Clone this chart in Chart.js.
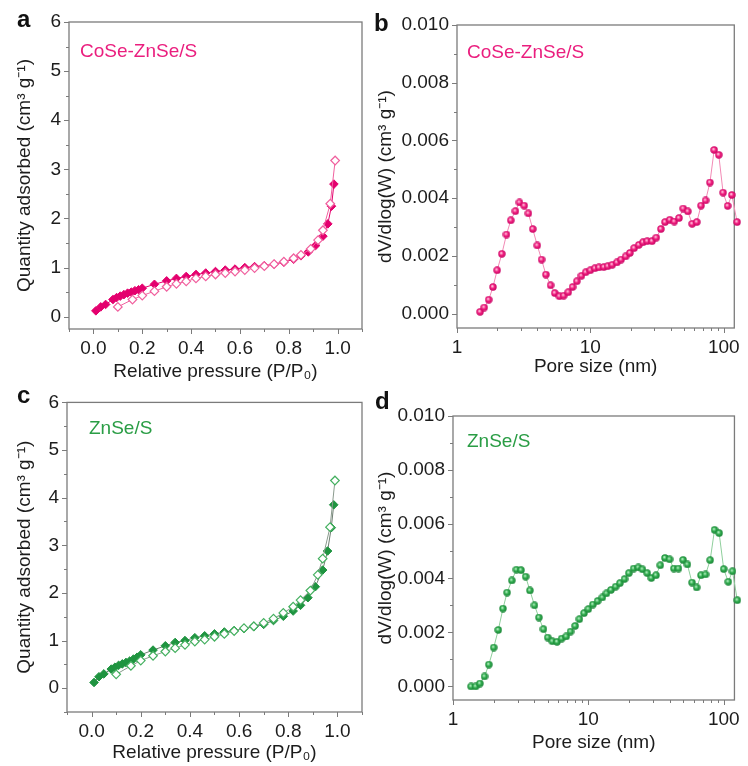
<!DOCTYPE html>
<html>
<head>
<meta charset="utf-8">
<title>N2 isotherms and pore size distributions</title>
<script src="https://cdn.jsdelivr.net/npm/chart.js@4.4.1/dist/chart.umd.min.js"></script>
<style>
  body { margin: 0; background: #fff; }
  #page { position: relative; width: 748px; height: 766px; overflow: hidden; font-family: Arial, 'Liberation Sans', sans-serif; }
  canvas { position: absolute; }
  .tag { position: absolute; font-size: 24px; line-height: 24px; font-weight: bold; color: #111; }
  .sample { position: absolute; font-size: 19px; line-height: 19px; white-space: nowrap; }
  .pink { color: #ea1e7e; }
  .green { color: #2a9d45; }
</style>
</head>
<body>
<div id="page">
  <canvas id="chartA" width="374" height="383" style="left:0;top:0"></canvas>
  <canvas id="chartB" width="374" height="383" style="left:374px;top:0"></canvas>
  <canvas id="chartC" width="374" height="383" style="left:0;top:383px"></canvas>
  <canvas id="chartD" width="374" height="383" style="left:374px;top:383px"></canvas>

  <div class="tag" style="left:17px;top:7px">a</div>
  <div class="tag" style="left:374px;top:11px">b</div>
  <div class="tag" style="left:17px;top:383px">c</div>
  <div class="tag" style="left:375px;top:389px">d</div>

  <div class="sample pink" style="left:80px;top:41px">CoSe-ZnSe/S</div>
  <div class="sample pink" style="left:467px;top:42px">CoSe-ZnSe/S</div>
  <div class="sample green" style="left:89px;top:418px">ZnSe/S</div>
  <div class="sample green" style="left:467px;top:431px">ZnSe/S</div>
</div>

<script>
// relative pressure (P/P0) points, shared by both isotherms
const adsPressure = [0.01, 0.03, 0.05, 0.08, 0.095, 0.11, 0.125, 0.14, 0.155, 0.17, 0.185, 0.20,
  0.25, 0.30, 0.34, 0.38, 0.42, 0.46, 0.50, 0.54, 0.58, 0.62, 0.66, 0.70, 0.74, 0.78, 0.82,
  0.85, 0.88, 0.91, 0.94, 0.96, 0.975, 0.985]
const desPressure = [0.99, 0.97, 0.94, 0.92, 0.89, 0.85, 0.82, 0.78, 0.74, 0.70, 0.66, 0.62,
  0.58, 0.54, 0.50, 0.46, 0.42, 0.38, 0.34, 0.30, 0.25, 0.20, 0.16, 0.10]

// quantity adsorbed (cm3 g-1)
const coseAds = [0.12, 0.20, 0.25, 0.35, 0.39, 0.42, 0.45, 0.48, 0.50, 0.53, 0.55, 0.58,
  0.66, 0.73, 0.78, 0.82, 0.86, 0.89, 0.92, 0.95, 0.97, 1.00, 1.02, 1.04, 1.07, 1.11, 1.17,
  1.24, 1.32, 1.45, 1.64, 1.89, 2.25, 2.70]
const coseDes = [3.18, 2.30, 1.76, 1.56, 1.38, 1.26, 1.19, 1.12, 1.07, 1.03, 0.99, 0.95,
  0.92, 0.89, 0.86, 0.82, 0.78, 0.72, 0.67, 0.61, 0.52, 0.43, 0.35, 0.20]
const znAds = [0.12, 0.24, 0.30, 0.40, 0.44, 0.48, 0.51, 0.54, 0.57, 0.61, 0.65, 0.70,
  0.80, 0.89, 0.96, 1.00, 1.06, 1.10, 1.14, 1.18, 1.21, 1.25, 1.29, 1.34, 1.42, 1.51, 1.62,
  1.74, 1.90, 2.13, 2.48, 2.88, 3.37, 3.85]
const znDes = [4.36, 3.38, 2.72, 2.38, 2.05, 1.85, 1.71, 1.58, 1.46, 1.37, 1.30, 1.26,
  1.20, 1.14, 1.08, 1.02, 0.98, 0.91, 0.84, 0.77, 0.68, 0.58, 0.47, 0.29]

// pore size (nm) and dV/dlog(W) (cm3 g-1)
const poreB = [1.49, 1.60, 1.73, 1.86, 2.00, 2.17, 2.35, 2.53, 2.74, 2.94, 3.19, 3.43, 3.70,
  4.00, 4.31, 4.64, 5.03, 5.41, 5.86, 6.31, 6.83, 7.36, 7.92, 8.58, 9.23, 10.0, 10.8, 11.6,
  12.6, 13.5, 14.6, 15.8, 17.0, 18.4, 19.8, 21.3, 23.1, 24.8, 26.7, 29.0, 31.2, 33.8, 36.3,
  39.4, 42.6, 46.2, 49.7, 53.8, 58.0, 62.8, 67.6, 73.1, 78.8, 84.8, 91.8, 98.9, 107, 115, 126]
const psdB = [0.00006, 0.00021, 0.00048, 0.00092, 0.00150, 0.00207, 0.00274, 0.00323, 0.00355,
  0.00385, 0.00374, 0.00347, 0.00293, 0.00236, 0.00187, 0.00135, 0.00098, 0.00071, 0.00060,
  0.00062, 0.00074, 0.00092, 0.00112, 0.00131, 0.00143, 0.00150, 0.00157, 0.00160, 0.00161,
  0.00164, 0.00169, 0.00177, 0.00187, 0.00198, 0.00210, 0.00227, 0.00238, 0.00247, 0.00251,
  0.00251, 0.00263, 0.00293, 0.00317, 0.00325, 0.00319, 0.00331, 0.00364, 0.00354, 0.00311,
  0.00317, 0.00374, 0.00392, 0.00454, 0.00567, 0.00550, 0.00419, 0.00373, 0.00411, 0.00317]
const poreD = [1.36, 1.47, 1.58, 1.71, 1.84, 2.00, 2.16, 2.34, 2.51, 2.72, 2.94, 3.18, 3.44,
  3.70, 4.00, 4.31, 4.66, 5.01, 5.42, 5.87, 6.35, 6.86, 7.38, 7.99, 8.59, 9.29, 10.0, 10.8,
  11.7, 12.7, 13.6, 14.7, 15.9, 17.1, 18.5, 19.9, 21.6, 23.4, 25.1, 27.2, 29.2, 31.6, 34.0,
  36.8, 39.8, 42.8, 46.3, 50.1, 53.9, 58.3, 63.1, 67.9, 73.4, 79.4, 85.5, 92.5, 100, 108, 116, 126]
const psdD = [0, 0, 0.00011, 0.00037, 0.00081, 0.00144, 0.00209, 0.00288, 0.00347, 0.00392,
  0.00432, 0.00430, 0.00406, 0.00355, 0.00300, 0.00255, 0.00212, 0.00181, 0.00167, 0.00165,
  0.00177, 0.00185, 0.00203, 0.00224, 0.00249, 0.00271, 0.00286, 0.00303, 0.00316, 0.00329,
  0.00344, 0.00357, 0.00369, 0.00382, 0.00397, 0.00419, 0.00436, 0.00440, 0.00433, 0.00419,
  0.00401, 0.00411, 0.00448, 0.00475, 0.00470, 0.00436, 0.00436, 0.00468, 0.00451, 0.00384,
  0.00366, 0.00411, 0.00414, 0.00467, 0.00579, 0.00567, 0.00434, 0.00387, 0.00426, 0.00319]

// axis ticks
const isoXTicks = [0, 0.2, 0.4, 0.6, 0.8, 1.0]
const isoXMinor = [-0.1, 0.1, 0.3, 0.5, 0.7, 0.9, 1.1]
const isoYTicks = [0, 1, 2, 3, 4, 5, 6]
const isoYMinor = [-0.5, 0.5, 1.5, 2.5, 3.5, 4.5, 5.5]
const psdXTicks = [1, 10, 100]
const psdXMinor = [2, 3, 4, 5, 6, 7, 8, 9, 20, 30, 40, 50, 60, 70, 80, 90]
const psdYTicks = [0, 0.002, 0.004, 0.006, 0.008, 0.010]
const psdYMinor = [0.001, 0.003, 0.005, 0.007, 0.009]

const FONT = "Arial, 'Liberation Sans', sans-serif"
const TEXT = '#1c1c1c'
const FRAME = '#7b7b7b'

function frameTicks(xMajor, xMinor, yMajor, yMinor) {
  return {
    id: 'frameTicks',
    beforeDatasetsDraw(chart) {
      const { ctx, chartArea: a, scales: { x, y } } = chart
      const inX = v => v >= x.min && v <= x.max
      const inY = v => v >= y.min && v <= y.max
      ctx.save()
      ctx.strokeStyle = FRAME
      ctx.lineWidth = 1.3
      ctx.strokeRect(a.left, a.top, a.right - a.left, a.bottom - a.top)
      ctx.lineWidth = 1
      ctx.beginPath()
      const xt = (v, len) => {
        const px = Math.round(x.getPixelForValue(v)) + 0.5
        ctx.moveTo(px, a.bottom); ctx.lineTo(px, a.bottom + len)
      }
      const yt = (v, len) => {
        const py = Math.round(y.getPixelForValue(v)) + 0.5
        ctx.moveTo(a.left, py); ctx.lineTo(a.left - len, py)
      }
      xMajor.filter(inX).forEach(v => xt(v, 5))
      xMinor.filter(inX).forEach(v => xt(v, 3))
      yMajor.filter(inY).forEach(v => yt(v, 5))
      yMinor.filter(inY).forEach(v => yt(v, 3))
      ctx.stroke()
      ctx.restore()
    }
  }
}

function sphere(light, color, dark) {
  const c = document.createElement('canvas')
  c.width = 8
  c.height = 8
  const g = c.getContext('2d')
  const grad = g.createRadialGradient(3.1, 2.9, 0, 4, 4, 4)
  grad.addColorStop(0, '#ffffff')
  grad.addColorStop(0.18, light)
  grad.addColorStop(0.5, color)
  grad.addColorStop(1, dark)
  g.fillStyle = grad
  g.beginPath()
  g.arc(4, 4, 3.7, 0, Math.PI * 2)
  g.fill()
  return c
}

const toPoints = (xs, ys) => xs.map((v, i) => ({ x: v, y: ys[i] }))

function axisFont() {
  return { family: FONT, size: 19 }
}

function baseOptions(geo, xScale, yScale) {
  return {
    responsive: false,
    animation: false,
    devicePixelRatio: 1,
    events: [],
    layout: { padding: { top: geo.top, right: geo.right, bottom: geo.bottom, left: 0 } },
    plugins: { legend: { display: false }, tooltip: { enabled: false } },
    scales: {
      x: Object.assign({
        afterFit: s => { s.height = geo.xH },
        grid: { display: false, drawTicks: false },
        border: { display: false },
        ticks: { padding: 8, color: TEXT, font: axisFont(), maxRotation: 0, autoSkip: false }
      }, xScale),
      y: Object.assign({
        afterFit: s => { s.width = geo.yW },
        grid: { display: false, drawTicks: false },
        border: { display: false },
        ticks: { padding: 8, color: TEXT, font: axisFont(), autoSkip: false }
      }, yScale)
    }
  }
}

function isoChart(id, geo, ads, des, col) {
  const xScale = {
    type: 'linear', min: -0.1, max: 1.1,
    afterBuildTicks: s => { s.ticks = isoXTicks.map(v => ({ value: v })) },
    title: { display: true, text: 'Relative pressure (P/P₀)', color: TEXT, font: axisFont(), padding: { top: 0, bottom: 0 } }
  }
  const yScale = {
    min: geo.yMin, max: 6,
    afterBuildTicks: s => { s.ticks = isoYTicks.map(v => ({ value: v })) },
    title: { display: true, text: 'Quantity adsorbed (cm³ g⁻¹)', color: TEXT, font: axisFont(), padding: { top: geo.titlePad, bottom: 0 } }
  }
  const opts = baseOptions(geo, xScale, yScale)
  opts.scales.x.ticks.callback = v => v.toFixed(1)
  opts.scales.y.ticks.callback = v => String(v)
  return new Chart(document.getElementById(id), {
    type: 'scatter',
    data: {
      datasets: [
        {
          label: 'Adsorption',
          data: toPoints(adsPressure, ads),
          showLine: true,
          borderColor: col.adsLine,
          borderWidth: 1,
          pointStyle: 'rectRot',
          pointRadius: 4.3,
          pointBackgroundColor: col.fill,
          pointBorderColor: col.fill,
          pointBorderWidth: 1,
          order: 1
        },
        {
          label: 'Desorption',
          data: toPoints(desPressure, des),
          showLine: true,
          borderColor: col.desLine,
          borderWidth: 1,
          pointStyle: 'rectRot',
          pointRadius: 4.3,
          pointBackgroundColor: '#ffffff',
          pointBorderColor: col.open,
          pointBorderWidth: 1.2,
          order: 0
        }
      ]
    },
    options: opts,
    plugins: [frameTicks(isoXTicks, isoXMinor, isoYTicks, isoYMinor)]
  })
}

function psdChart(id, geo, pores, values, col) {
  const xScale = {
    type: 'logarithmic', min: 1, max: 120,
    afterBuildTicks: s => { s.ticks = psdXTicks.map(v => ({ value: v })) },
    title: { display: true, text: 'Pore size (nm)', color: TEXT, font: axisFont(), padding: { top: 0, bottom: 0 } }
  }
  const yScale = {
    min: -0.0005, max: 0.010,
    afterBuildTicks: s => { s.ticks = psdYTicks.map(v => ({ value: v })) },
    title: { display: true, text: 'dV/dlog(W) (cm³ g⁻¹)', color: TEXT, font: axisFont(), padding: { top: geo.titlePad, bottom: 0 } }
  }
  const opts = baseOptions(geo, xScale, yScale)
  opts.scales.x.ticks.callback = v => String(v)
  opts.scales.y.ticks.callback = v => v.toFixed(3)
  return new Chart(document.getElementById(id), {
    type: 'scatter',
    data: {
      datasets: [{
        label: 'dV/dlog(W)',
        data: toPoints(pores, values),
        showLine: true,
        borderColor: col.line,
        borderWidth: 1,
        pointStyle: sphere(col.light, col.ball, col.dark),
        pointRadius: 4,
        clip: false
      }]
    },
    options: opts,
    plugins: [frameTicks(psdXTicks, psdXMinor, psdYTicks, psdYMinor)]
  })
}

const pink = { fill: '#e4006e', open: '#f0609e', adsLine: '#e4006e', desLine: '#f0609e' }
const green = { fill: '#1f9440', open: '#45b060', adsLine: '#6d7d70', desLine: '#8a9a8d' }

isoChart('chartA', { top: 22, right: 12, bottom: 0, xH: 54, yW: 69, yMin: -0.25, titlePad: 13 }, coseAds, coseDes, pink)
isoChart('chartC', { top: 18, right: 12, bottom: 2, xH: 52, yW: 67, yMin: -0.5, titlePad: 13 }, znAds, znDes, green)
psdChart('chartB', { top: 25, right: 11, bottom: 5, xH: 50, yW: 83, titlePad: 0 }, poreB, psdB,
  { line: '#f28ab5', light: '#ff9cc8', ball: '#f0207f', dark: '#c20060' })
psdChart('chartD', { top: 33, right: 11, bottom: 12, xH: 54, yW: 79, titlePad: 0 }, poreD, psdD,
  { line: '#8fcf9c', light: '#8fe0a2', ball: '#2faa4c', dark: '#198036' })
</script>
</body>
</html>
